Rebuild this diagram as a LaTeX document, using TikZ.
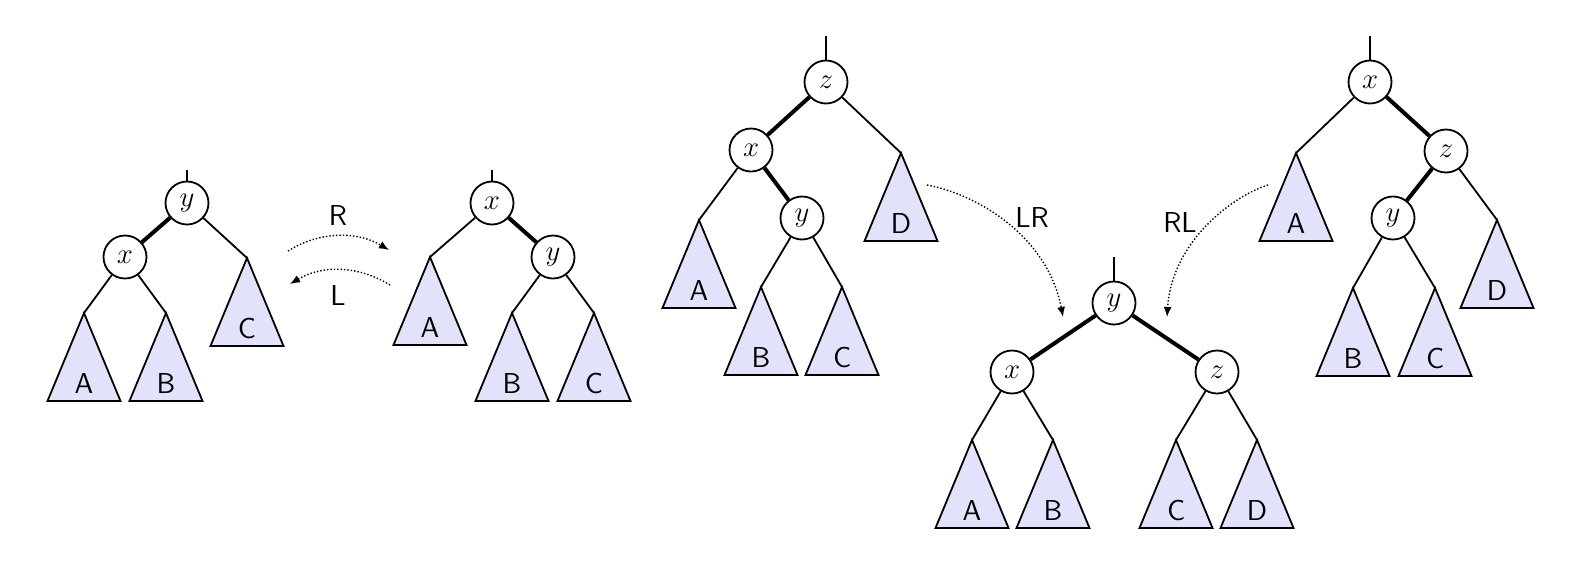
\documentclass[tikz,border=0pt]{standalone}
\usetikzlibrary{arrows.meta}
\definecolor{subfill}{RGB}{226,226,250}
\tikzset{
  key/.style={circle, draw, line width=0.9pt, minimum size=21.5pt, inner sep=0pt,
    fill=white, font=\fontsize{14}{16}\selectfont},
  link/.style={line width=0.9pt},
  heavy/.style={line width=2pt},
  subtri/.style={draw, fill=subfill, line width=0.9pt, line join=miter},
  subname/.style={font=\sffamily\fontsize{14.4}{17}\selectfont, anchor=base, inner sep=0pt},
  rot/.style={densely dotted, line width=0.7pt, -{Latex[length=5pt,width=4pt]}},
  rotname/.style={font=\sffamily\fontsize{14.4}{17}\selectfont, inner sep=0pt},
}
% subtree triangle: name, apex x, apex y, label
\newcommand{\subtree}[4]{%
  \coordinate (#1) at (#2,#3);
  \path[subtri] (#1) -- ++(-36.5,88) -- ++(73,0) -- cycle;
  \node[subname] (#1-l) at (#2,{#3+80}) {#4};
}
\begin{document}
\begin{tikzpicture}[x=0.5pt, y=-0.5pt]
\useasboundingbox (0,0) rectangle (1582,574);

% --- tree a: y above x ---
\subtree{a-A}{84}{313}{A}
\subtree{a-B}{166}{313}{B}
\subtree{a-C}{247}{258}{C}
\node[key] (a-y) at (187,203) {$y$};
\node[key] (a-x) at (125,257) {$x$};
\coordinate (a-top) at (187,170);
\draw[link] (a-top) -- (a-y);
\draw[heavy] (a-y) -- (a-x);
\draw[link] (a-y) -- (a-C);
\draw[link] (a-x) -- (a-A);
\draw[link] (a-x) -- (a-B);

% --- tree b: x above y ---
\subtree{b-A}{430}{257}{A}
\subtree{b-B}{512}{313}{B}
\subtree{b-C}{594}{313}{C}
\node[key] (b-x) at (492,203) {$x$};
\node[key] (b-y) at (553,257) {$y$};
\coordinate (b-top) at (492,170);
\draw[link] (b-top) -- (b-x);
\draw[heavy] (b-x) -- (b-y);
\draw[link] (b-x) -- (b-A);
\draw[link] (b-y) -- (b-B);
\draw[link] (b-y) -- (b-C);

% single rotations
\coordinate (r-s) at (288,251);
\coordinate (r-e) at (389,250);
\coordinate (l-s) at (390,285);
\coordinate (l-e) at (290,284);
\draw[rot] (r-s) .. controls (320,231) and (357,231) .. (r-e);
\draw[rot] (l-s) .. controls (357,265) and (322,265) .. (l-e);
\node[rotname] (r-lab) at (338,215) {R};
\node[rotname] (l-lab) at (338,295) {L};

% --- tree c: z, x, y (left-right case) ---
\subtree{c-A}{699}{220}{A}
\subtree{c-B}{761}{287}{B}
\subtree{c-C}{842}{287}{C}
\subtree{c-D}{901}{153}{D}
\node[key] (c-z) at (826,82) {$z$};
\node[key] (c-x) at (751,150) {$x$};
\node[key] (c-y) at (802,218) {$y$};
\coordinate (c-top) at (826,36);
\draw[link] (c-top) -- (c-z);
\draw[heavy] (c-z) -- (c-x);
\draw[heavy] (c-x) -- (c-y);
\draw[link] (c-z) -- (c-D);
\draw[link] (c-x) -- (c-A);
\draw[link] (c-y) -- (c-B);
\draw[link] (c-y) -- (c-C);

% --- tree d: balanced result ---
\subtree{d-A}{972}{440}{A}
\subtree{d-B}{1053}{440}{B}
\subtree{d-C}{1176}{440}{C}
\subtree{d-D}{1257}{440}{D}
\node[key] (d-y) at (1114,303) {$y$};
\node[key] (d-x) at (1012,372) {$x$};
\node[key] (d-z) at (1217,372) {$z$};
\coordinate (d-top) at (1114,257);
\draw[link] (d-top) -- (d-y);
\draw[heavy] (d-y) -- (d-x);
\draw[heavy] (d-y) -- (d-z);
\draw[link] (d-x) -- (d-A);
\draw[link] (d-x) -- (d-B);
\draw[link] (d-z) -- (d-C);
\draw[link] (d-z) -- (d-D);

% --- tree e: x, z, y (right-left case) ---
\subtree{e-A}{1296}{153}{A}
\subtree{e-B}{1353}{288}{B}
\subtree{e-C}{1435}{288}{C}
\subtree{e-D}{1497}{220}{D}
\node[key] (e-x) at (1370,82) {$x$};
\node[key] (e-z) at (1446,151) {$z$};
\node[key] (e-y) at (1393,218) {$y$};
\coordinate (e-top) at (1370,36);
\draw[link] (e-top) -- (e-x);
\draw[heavy] (e-x) -- (e-z);
\draw[heavy] (e-z) -- (e-y);
\draw[link] (e-x) -- (e-A);
\draw[link] (e-z) -- (e-D);
\draw[link] (e-y) -- (e-B);
\draw[link] (e-y) -- (e-C);

% double rotations
\coordinate (lr-s) at (927,185);
\coordinate (lr-e) at (1063,317);
\coordinate (rl-s) at (1268,185);
\coordinate (rl-e) at (1167,317);
\draw[rot] (lr-s) .. controls (980,195) and (1048,238) .. (lr-e);
\draw[rot] (rl-s) .. controls (1235,195) and (1172,240) .. (rl-e);
\node[rotname] (lr-lab) at (1032,217) {LR};
\node[rotname] (rl-lab) at (1180,222) {RL};
\end{tikzpicture}
\end{document}
